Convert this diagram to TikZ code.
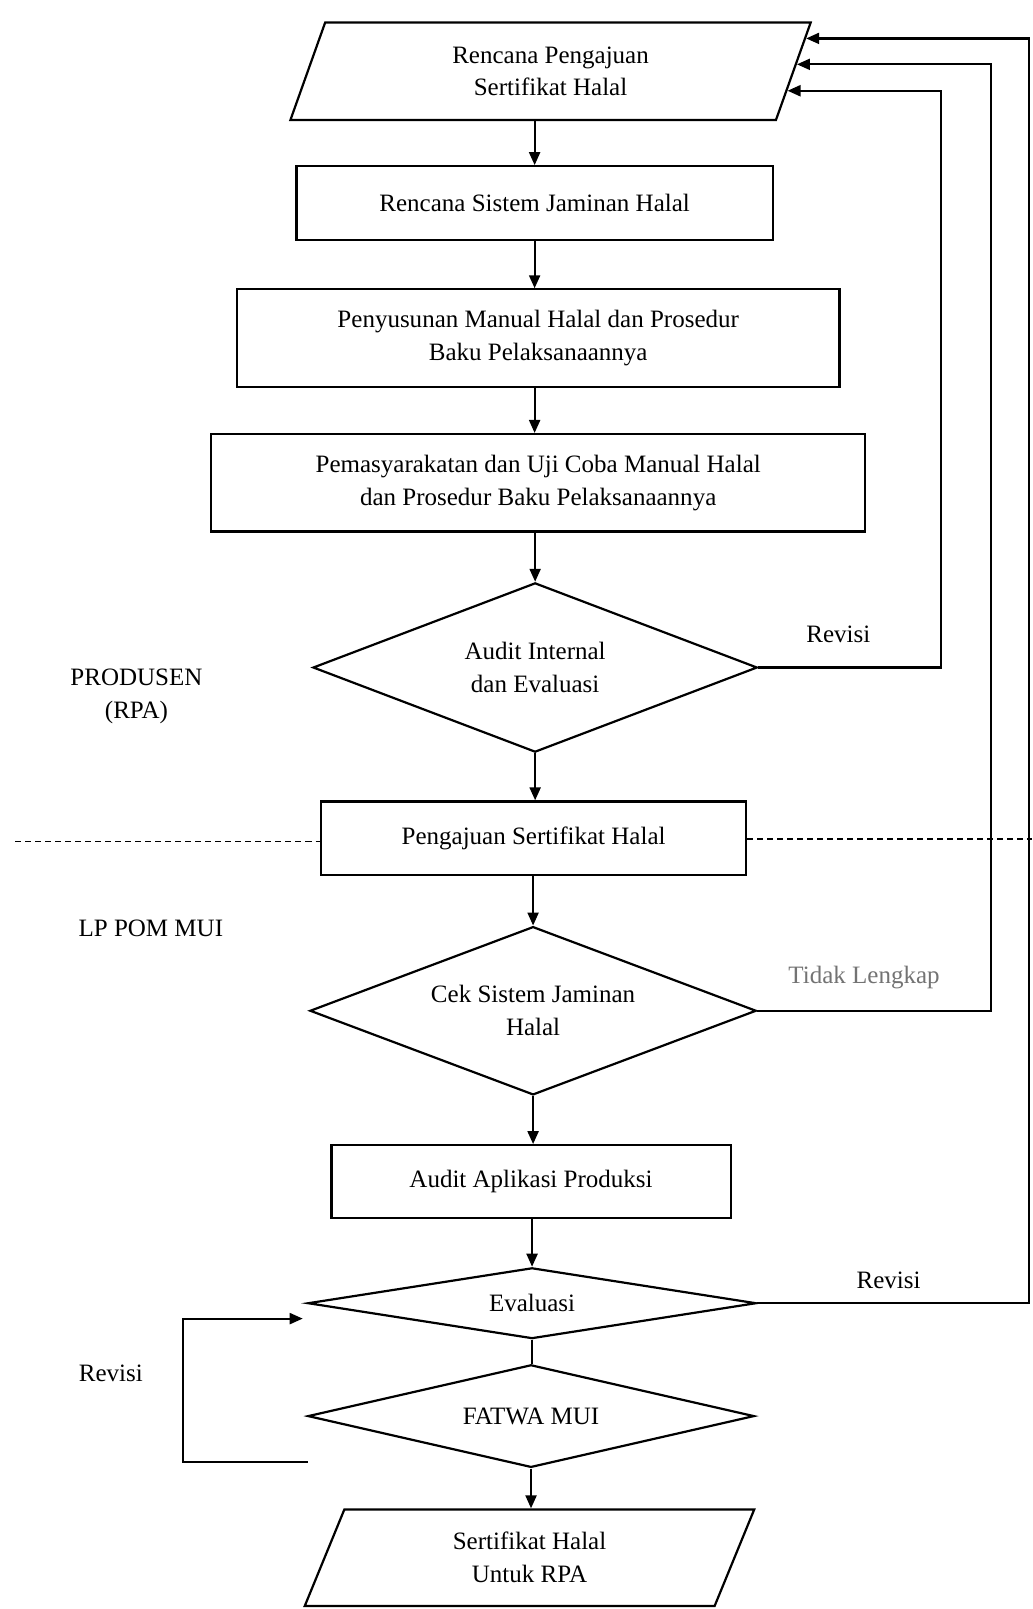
\documentclass[tikz,border=0pt]{standalone}
\usepackage{fontspec}
\setmainfont{Liberation Serif}
\usetikzlibrary{shapes.geometric,arrows.meta,calc}
\def\u{0.5129pt}
\begin{document}
\begin{tikzpicture}[x=0.5129pt,y=-0.5129pt,
  every node/.style={font=\fontsize{12.5}{16.4}\selectfont, text=black},
  boxst/.style={draw, line width=1.1pt, rectangle, inner sep=0pt, align=center},
  dia/.style={draw, line width=1.1pt, diamond, inner sep=0pt, align=center},
  para/.style={draw, line width=1.1pt, trapezium, trapezium stretches body, inner sep=0pt, align=center},
  arr/.style={line width=1.1pt, -{Triangle[length=6.5pt,width=5.5pt]}},
  ln/.style={line width=1.1pt},
  lbl/.style={inner sep=0pt, align=center}]
\useasboundingbox (0,0) rectangle (1006,1568);

% main chain
\node[para, trapezium left angle=55, trapezium right angle=125, minimum width=507*\u, minimum height=95*\u] (P1) at (536.5,69.5) {Rencana Pengajuan\\Sertifikat Halal};
\node[boxst, minimum width=464*\u, minimum height=72*\u] (b1) at (521,198) {Rencana Sistem Jaminan Halal};
\node[boxst, minimum width=587*\u, minimum height=95*\u] (b2) at (524.5,329.5) {Penyusunan Manual Halal dan Prosedur\\Baku Pelaksanaannya};
\node[boxst, minimum width=637*\u, minimum height=95*\u] (b3) at (524.5,470.5) {Pemasyarakatan dan Uji Coba Manual Halal\\dan Prosedur Baku Pelaksanaannya};
\node[dia, aspect=2.62, minimum width=433*\u, minimum height=165*\u] (d1) at (521.5,650.5) {Audit Internal\\dan Evaluasi};
\node[boxst, minimum width=414*\u, minimum height=72*\u] (b4) at (520,817) {Pengajuan Sertifikat Halal};
\node[dia, aspect=2.65, minimum width=435*\u, minimum height=164*\u] (d2) at (519.5,985) {Cek Sistem Jaminan\\Halal};
\node[boxst, minimum width=389*\u, minimum height=71*\u] (b5) at (517.5,1151.5) {Audit Aplikasi Produksi};
\node[dia, aspect=6.33, minimum width=437*\u, minimum height=69*\u] (d3) at (518.5,1270) {Evaluasi};
\node[dia, aspect=4.35, minimum width=435*\u, minimum height=100*\u] (d4) at (517.5,1380) {FATWA MUI};
\node[para, trapezium left angle=52, trapezium right angle=128, minimum width=438*\u, minimum height=94*\u] (P2) at (516,1518) {Sertifikat Halal\\Untuk RPA};

% side labels
\node[lbl] (prod) at (133,679) {PRODUSEN\\(RPA)};
\node[lbl] (lppom) at (147,905) {LP POM MUI};
\node[lbl] (lr1) at (817,618) {Revisi};
\node[lbl, text=black!55] (ltl) at (842,953) {Tidak Lengkap};
\node[lbl] (lr2) at (866,1248) {Revisi};
\node[lbl] (lr3) at (108,1338) {Revisi};

% vertical arrows
\draw[arr] (P1.south -| b1.north) -- (b1.north);
\draw[arr] (b1.south) -- (b1.south |- b2.north);
\draw[arr] (b2.south -| b1.south) -- (b1.south |- b3.north);
\draw[arr] (b3.south -| d1.north) -- (d1.north);
\draw[arr] (d1.south) -- (d1.south |- b4.north);
\draw[arr] (b4.south -| d2.north) -- (d2.north);
\draw[arr] (d2.south) -- (d2.south |- b5.north);
\draw[arr] (b5.south -| d3.north) -- (d3.north);
\draw[ln] (d3.south) -- (d3.south |- d4.north);
\draw[arr] (d4.south) -- (d4.south |- P2.north);

% dashed separator
\coordinate (dl) at (15,0);
\coordinate (dr) at (1006,0);
\draw[dash pattern=on 3pt off 2pt, line width=0.9pt] ([yshift=-3*\u]b4.west -| dl) -- ([yshift=-3*\u]b4.west);
\draw[dash pattern=on 3pt off 2pt, line width=0.9pt] ([yshift=-1*\u]b4.east) -- ([yshift=-1*\u]b4.east -| dr);

% feedback loops on the right
\coordinate (r1) at (917,0);
\coordinate (r2) at (966,0);
\coordinate (r3) at (1003,0);
\coordinate (T1) at ($(P1.bottom right corner)!0.305!(P1.top right corner)$);
\coordinate (T2) at ($(P1.bottom right corner)!0.57!(P1.top right corner)$);
\coordinate (T3) at ($(P1.bottom right corner)!0.83!(P1.top right corner)$);
\draw[arr] (d1.east) -- (d1.east -| r1) |- (T1);
\draw[arr] (d2.east) -- (d2.east -| r2) |- (T2);
\draw[arr] (d3.east) -- (d3.east -| r3) |- (T3);

% left loop
\coordinate (lb) at (300,1425);
\coordinate (lx) at (178,0);
\coordinate (le) at (295,1285);
\draw[arr] (lb) -- (lb -| lx) |- (le);
\end{tikzpicture}
\end{document}
